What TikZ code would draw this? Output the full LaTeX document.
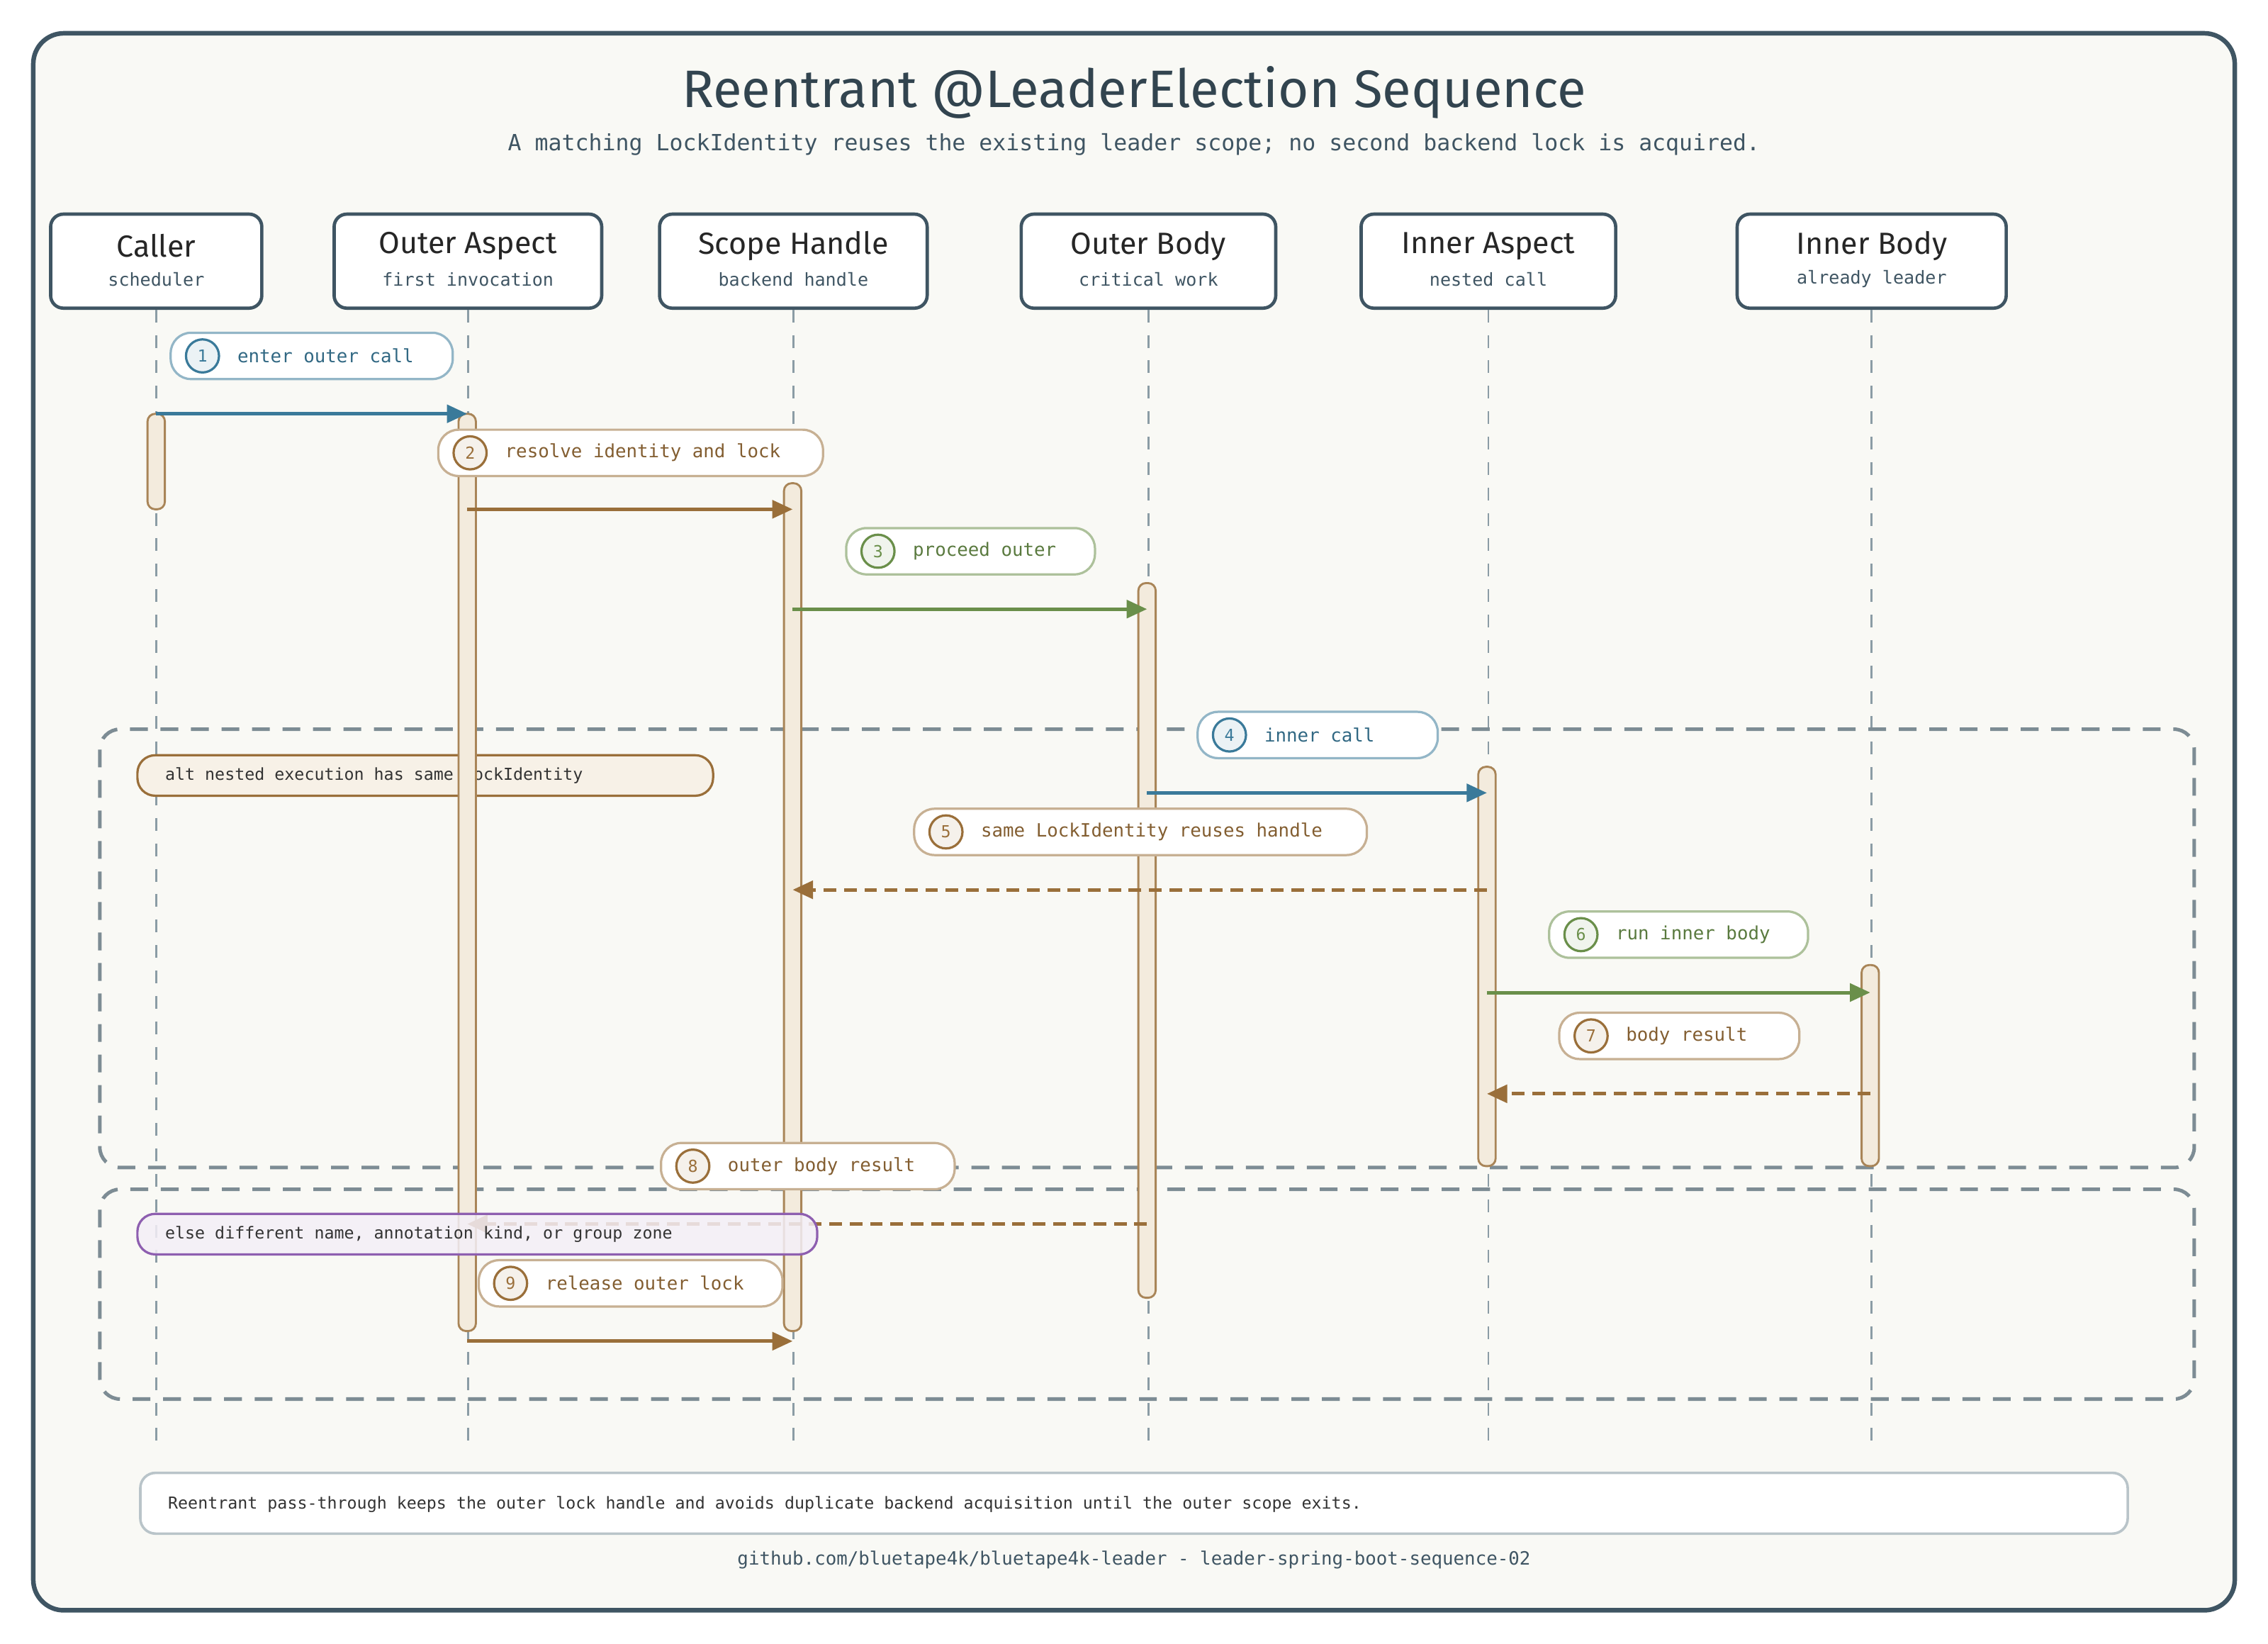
\documentclass[tikz,border=0pt]{standalone}
\usepackage{fontspec}
\setmainfont{Fira Sans}
\newfontfamily\monof{DejaVu Sans Mono}
\usetikzlibrary{arrows.meta,calc}
\definecolor{bgc}{HTML}{F9F9F5}
\definecolor{framec}{HTML}{3F5563}
\definecolor{lifec}{HTML}{8B9CA5}
\definecolor{bluec}{HTML}{3A7A9A}
\definecolor{brownc}{HTML}{9A6F3A}
\definecolor{greenc}{HTML}{6A8F4A}
\definecolor{purplec}{HTML}{8E5FB0}
\definecolor{actc}{HTML}{F3EBDD}
\tikzset{
  actor/.style={draw=framec, line width=1.3pt, fill=white, rounded corners=5pt},
  lifeline/.style={draw=lifec, line width=0.8pt, dash pattern=on 5pt off 5pt},
  act/.style={draw=brownc!85, line width=0.8pt, fill=actc, rounded corners=3pt},
  msg/.style={line width=1.4pt, -{Triangle[length=8pt,width=7pt]}},
  reply/.style={msg, dash pattern=on 5pt off 3pt},
  frame/.style={draw=lifec!90!black, line width=1.4pt, dash pattern=on 7pt off 5pt, rounded corners=8pt},
  numc/.style={circle, draw, line width=0.9pt, minimum size=13pt, inner sep=0pt, font=\monof\fontsize{6.5}{7}\selectfont},
  ltext/.style={anchor=west, font=\monof\fontsize{7.2}{8}\selectfont},
  small/.style={anchor=west, font=\monof\fontsize{6.5}{7}\selectfont, text=black!80},
}
% pill label: x1, x2, y, number, text, colour
\newcommand{\steppill}[6]{
  \draw[draw=#6!55, line width=0.9pt, fill=white, rounded corners=8pt] (#1,#3+16) rectangle (#2,#3-16);
  \node[numc, draw=#6, fill=#6!10, text=#6] (n#4) at (#1+22,#3) {#4};
  \node[ltext, text=#6!85!black] (t#4) at (#1+40,#3) {#5};
}
\begin{document}
\begin{tikzpicture}[x=0.02cm,y=-0.02cm]
\useasboundingbox (0,0) rectangle (1568,1136);
\draw[draw=framec, line width=1.8pt, fill=bgc, rounded corners=12pt] (23,23) rectangle (1545,1113);

\node[font=\huge, text=framec!80!black] (title) at (784,64) {Reentrant @LeaderElection Sequence};
\node[font=\monof\fontsize{8.8}{10}\selectfont, text=framec] (sub) at (784,100) {A matching LockIdentity reuses the existing leader scope; no second backend lock is acquired.};

% actors
\foreach \nm/\xa/\xb/\head/\tail in {cal/35/181/Caller/scheduler, oa/231/416/Outer Aspect/first invocation,
  sh/456/641/Scope Handle/backend handle, ob/706/882/Outer Body/critical work,
  ia/941/1117/Inner Aspect/nested call, ib/1201/1387/Inner Body/already leader}{
  \draw[actor] (\xa,148) rectangle (\xb,213);
  \node[font=\large, text=black!85] (\nm h) at ({(\xa+\xb)/2},170) {\head};
  \node[font=\monof\scriptsize, text=framec] (\nm t) at ({(\xa+\xb)/2},193) {\tail};
  \draw[lifeline] ({(\xa+\xb)/2},214) -- ({(\xa+\xb)/2},1000);
}

% frames
\draw[frame] (69,504) rectangle (1517,807);
\draw[frame] (69,822) rectangle (1517,967);
\draw[draw=brownc, line width=0.9pt, fill=actc!70, rounded corners=7pt] (95,522) rectangle (493,550);
\node[small] (altl) at (108,536) {alt nested execution has same LockIdentity};

% activations
\foreach \x/\ya/\yb in {108/286/352, 323/286/920, 548/334/920, 793/403/897, 1028/530/806, 1293/667/806}
  \draw[act] (\x-6,\ya) rectangle (\x+6,\yb);

% step labels
\steppill{118}{313}{246}{1}{enter outer call}{bluec}
\steppill{303}{569}{313}{2}{resolve identity and lock}{brownc}
\steppill{585}{757}{381}{3}{proceed outer}{greenc}
\steppill{828}{994}{508}{4}{inner call}{bluec}
\steppill{632}{945}{575}{5}{same LockIdentity reuses handle}{brownc}
\steppill{1071}{1250}{646}{6}{run inner body}{greenc}
\steppill{1078}{1244}{716}{7}{body result}{brownc}
\steppill{457}{660}{806}{8}{outer body result}{brownc}
\steppill{331}{541}{887}{9}{release outer lock}{brownc}

% messages
\coordinate (c1) at (108,286); \coordinate (a1) at (323,286);
\coordinate (c2) at (323,352); \coordinate (a2) at (548,352);
\coordinate (c3) at (548,421); \coordinate (a3) at (793,421);
\coordinate (c4) at (793,548); \coordinate (a4) at (1028,548);
\coordinate (c5) at (1028,615); \coordinate (a5) at (548,615);
\coordinate (c6) at (1028,686); \coordinate (a6) at (1293,686);
\coordinate (c7) at (1293,756); \coordinate (a7) at (1028,756);
\coordinate (c8) at (793,846); \coordinate (a8) at (323,846);
\coordinate (c9) at (323,927); \coordinate (a9) at (548,927);
\draw[msg, bluec] (c1) -- (a1);
\draw[msg, brownc] (c2) -- (a2);
\draw[msg, greenc] (c3) -- (a3);
\draw[msg, bluec] (c4) -- (a4);
\draw[reply, brownc] (c5) -- (a5);
\draw[msg, greenc] (c6) -- (a6);
\draw[reply, brownc] (c7) -- (a7);
\draw[reply, brownc] (c8) -- (a8);
\draw[msg, brownc] (c9) -- (a9);

\draw[draw=purplec, line width=0.9pt, fill=purplec!10, fill opacity=0.85, rounded corners=7pt] (95,839) rectangle (565,867);
\node[small] (elsel) at (108,853) {else different name, annotation kind, or group zone};

% footer
\draw[draw=lifec!60, line width=1pt, fill=white, rounded corners=6pt] (97,1018) rectangle (1471,1060);
\node[small] (note) at (110,1040) {Reentrant pass-through keeps the outer lock handle and avoids duplicate backend acquisition until the outer scope exits.};
\node[font=\monof\fontsize{7.2}{8}\selectfont, text=framec] (src) at (784,1078) {github.com/bluetape4k/bluetape4k-leader - leader-spring-boot-sequence-02};
\end{tikzpicture}
\end{document}
